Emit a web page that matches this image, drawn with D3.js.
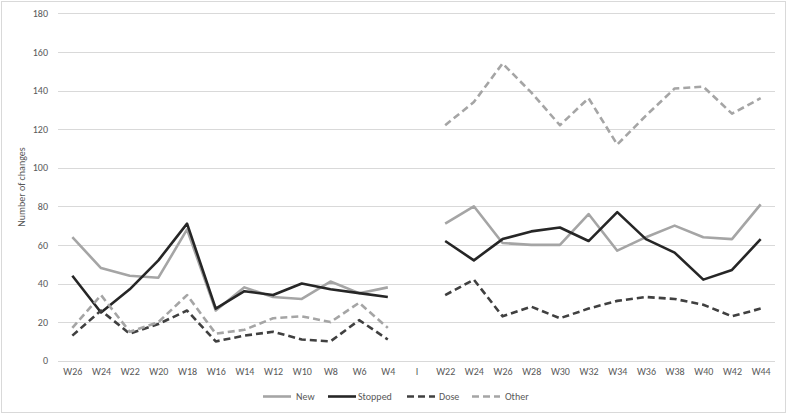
<!DOCTYPE html>
<html>
<head>
<meta charset="utf-8">
<script src="https://cdn.jsdelivr.net/npm/d3@7"></script>
<style>
  html, body { margin: 0; padding: 0; background: #fff; }
  svg { display: block; font-family: Carlito, Calibri, Lato, "Liberation Sans", sans-serif; }
</style>
</head>
<body>
<svg id="chart" width="788" height="414"></svg>
<script>
const categories = ["W26","W24","W22","W20","W18","W16","W14","W12","W10","W8","W6","W4","I",
                    "W22","W24","W26","W28","W30","W32","W34","W36","W38","W40","W42","W44"];
const newVals     = [64,48,44,43,68,26,38,33,32,41,35,38,null, 71,80,61,60,60,76,57,64,70,64,63,81];
const stoppedVals = [44,25,37,52,71,27,36,34,40,37,35,33,null, 62,52,63,67,69,62,77,63,56,42,47,63];
const doseVals    = [13,26,14,19,26,10,13,15,11,10,21,11,null, 34,42,23,28,22,27,31,33,32,29,23,27];
const otherVals   = [17,34,15,20,34,14,16,22,23,20,30,17,null, 122,134,154,139,122,136,112,127,141,142,128,136];
const yTicks = [0,20,40,60,80,100,120,140,160,180];
const seriesNames = ["New","Stopped","Dose","Other"];
const yTitle = "Number of changes";

const series = [
  {name: seriesNames[0], values: newVals,     color: "#a5a5a5", dash: null},
  {name: seriesNames[1], values: stoppedVals, color: "#262626", dash: null},
  {name: seriesNames[2], values: doseVals,    color: "#404040", dash: "7,4"},
  {name: seriesNames[3], values: otherVals,   color: "#a5a5a5", dash: "7,4"}
];

const svg = d3.select("#chart");
const W = 788, H = 414;
const mLeft = 58, mRight = 775, mTop = 13.3, mBottom = 360.7;

// chart border
svg.append("rect").attr("x", 1.5).attr("y", 1.5).attr("width", W - 4).attr("height", H - 3)
  .attr("fill", "#fff").attr("stroke", "#d9d9d9").attr("stroke-width", 1);

const idx = categories.map((c, i) => i);
const x = d3.scalePoint().domain(idx).range([mLeft, mRight]).padding(0.5);
const y = d3.scaleLinear().domain([0, 180]).range([mBottom, mTop]);

// gridlines
svg.append("g").selectAll("line").data(yTicks).join("line")
  .attr("x1", mLeft).attr("x2", mRight)
  .attr("y1", d => Math.round(y(d)) + 0.5).attr("y2", d => Math.round(y(d)) + 0.5)
  .attr("stroke", "#d9d9d9").attr("stroke-width", 1);

// y axis labels
const yAxis = d3.axisLeft(y).tickValues(yTicks).tickSize(0).tickPadding(0);
const gy = svg.append("g").attr("transform", `translate(48,0)`).call(yAxis);
gy.select(".domain").remove();
gy.selectAll("text").attr("fill", "#595959").style("font-size", "10px")
  .style("font-family", "Carlito, Calibri, Lato, 'Liberation Sans', sans-serif");

// x axis labels
const xAxis = d3.axisBottom(x).tickFormat(i => categories[i]).tickSize(0).tickPadding(0);
const gx = svg.append("g").attr("transform", `translate(0,368)`).call(xAxis);
gx.select(".domain").remove();
gx.selectAll("text").attr("fill", "#595959").style("font-size", "10px")
  .style("font-family", "Carlito, Calibri, Lato, 'Liberation Sans', sans-serif");

// y title
svg.append("text")
  .attr("transform", `translate(25,${(mTop + mBottom) / 2}) rotate(-90)`)
  .attr("text-anchor", "middle")
  .attr("fill", "#595959").style("font-size", "10px")
  .text(yTitle);

// lines
const line = d3.line()
  .defined(d => d.v != null)
  .x(d => x(d.i)).y(d => y(d.v));

series.forEach(s => {
  svg.append("path")
    .datum(s.values.map((v, i) => ({i, v})))
    .attr("fill", "none")
    .attr("stroke", s.color)
    .attr("stroke-width", 2.6)
    .attr("stroke-linejoin", "round")
    .attr("stroke-dasharray", s.dash)
    .attr("d", line);
});

// legend
const legendItems = [
  {x: 263, tx: 296},
  {x: 328, tx: 358},
  {x: 407, tx: 439},
  {x: 472, tx: 505}
];
const lg = svg.append("g");
series.forEach((s, k) => {
  const it = legendItems[k];
  lg.append("line")
    .attr("x1", it.x).attr("x2", it.x + 28)
    .attr("y1", 396.5).attr("y2", 396.5)
    .attr("stroke", s.color).attr("stroke-width", 2.6)
    .attr("stroke-dasharray", s.dash);
  lg.append("text")
    .attr("x", it.tx).attr("y", 400)
    .attr("fill", "#595959").style("font-size", "10px")
    .text(s.name);
});
</script>
</body>
</html>
